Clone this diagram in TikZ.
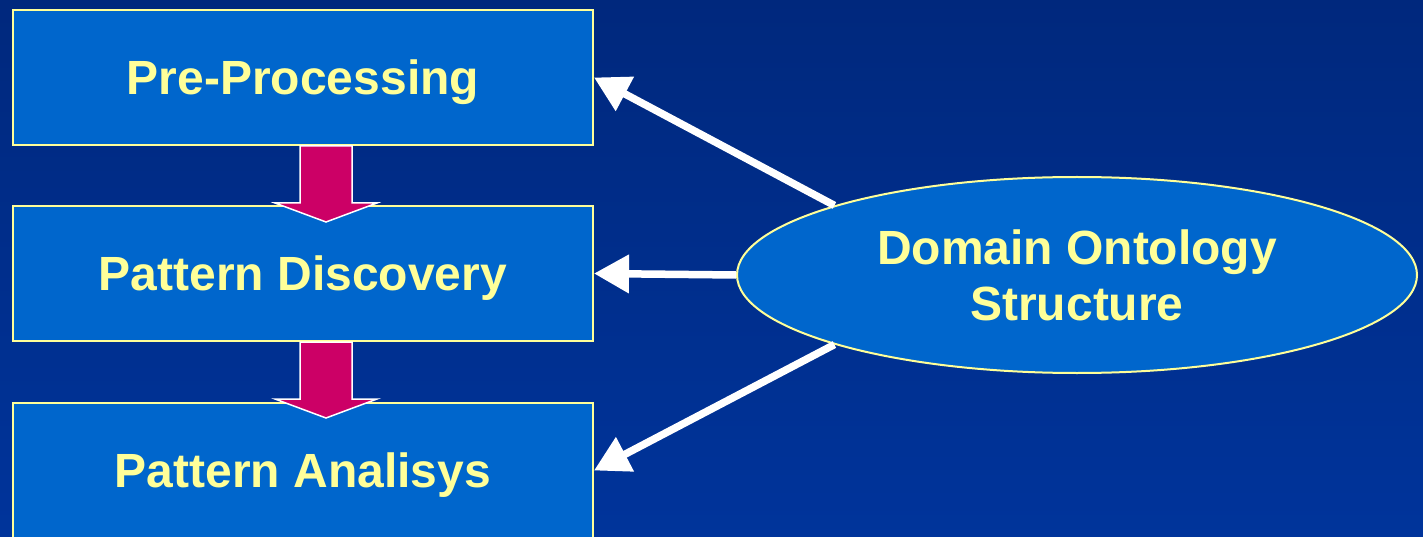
\documentclass[tikz,border=0pt]{standalone}
\usepackage{fontspec}
\setmainfont{Liberation Sans}
\usetikzlibrary{arrows.meta,shapes.geometric}
\definecolor{bgtop}{RGB}{0,40,125}
\definecolor{bgbot}{RGB}{0,52,155}
\definecolor{boxblue}{RGB}{0,102,204}
\definecolor{paleyellow}{RGB}{255,255,153}
\definecolor{flowpink}{RGB}{204,0,102}
\tikzset{
  stagebox/.style={draw=paleyellow, line width=2pt, fill=boxblue,
    minimum width=580pt, minimum height=135pt, inner sep=0pt,
    text depth=0pt,
    text=paleyellow, font=\fontsize{48}{56}\selectfont\bfseries},
  ontology/.style={ellipse, draw=paleyellow, line width=2pt, fill=boxblue,
    minimum width=680pt, minimum height=196pt, inner sep=0pt,
    text=paleyellow, align=center, font=\fontsize{48}{56}\selectfont\bfseries},
  feedback/.style={draw=white, line width=7.5pt,
    -{Triangle[length=35pt,width=37pt]}},
  flowarrow/.style={fill=flowpink, draw=white, line width=1.5pt, line join=miter}
}
\begin{document}
\begin{tikzpicture}[x=1pt,y=-1pt]
  \useasboundingbox (0,0) rectangle (1423,537);
  \clip (0,0) rectangle (1423,537);
  \shade[top color=bgtop, bottom color=bgbot] (0,0) rectangle (1423,537);

  % process stages
  \node[stagebox] (pre) at (303,77.5) {Pre-Processing};
  \node[stagebox] (disc) at (303,273.5) {Pattern Discovery};
  \node[stagebox] (anal) at (303,470.5) {Pattern Analisys};

  % ontology
  \node[ontology] (ont) at (1077,275) {Domain Ontology\\Structure};

  % block arrows between stages
  \foreach \src in {pre,disc}{
    \draw[flowarrow] ([xshift=-3pt]\src.south)
      -- ++(0,57) -- ++(-25,0) -- ++(51,19) -- ++(51,-19) -- ++(-25,0)
      -- ++(0,-57) -- cycle;
  }

  % feedback from the ontology to each stage
  \draw[feedback] (ont.164) -- (pre.east);
  \draw[feedback] (ont.west) -- (disc.east);
  \draw[feedback] (ont.196) -- (anal.east);
\end{tikzpicture}
\end{document}
